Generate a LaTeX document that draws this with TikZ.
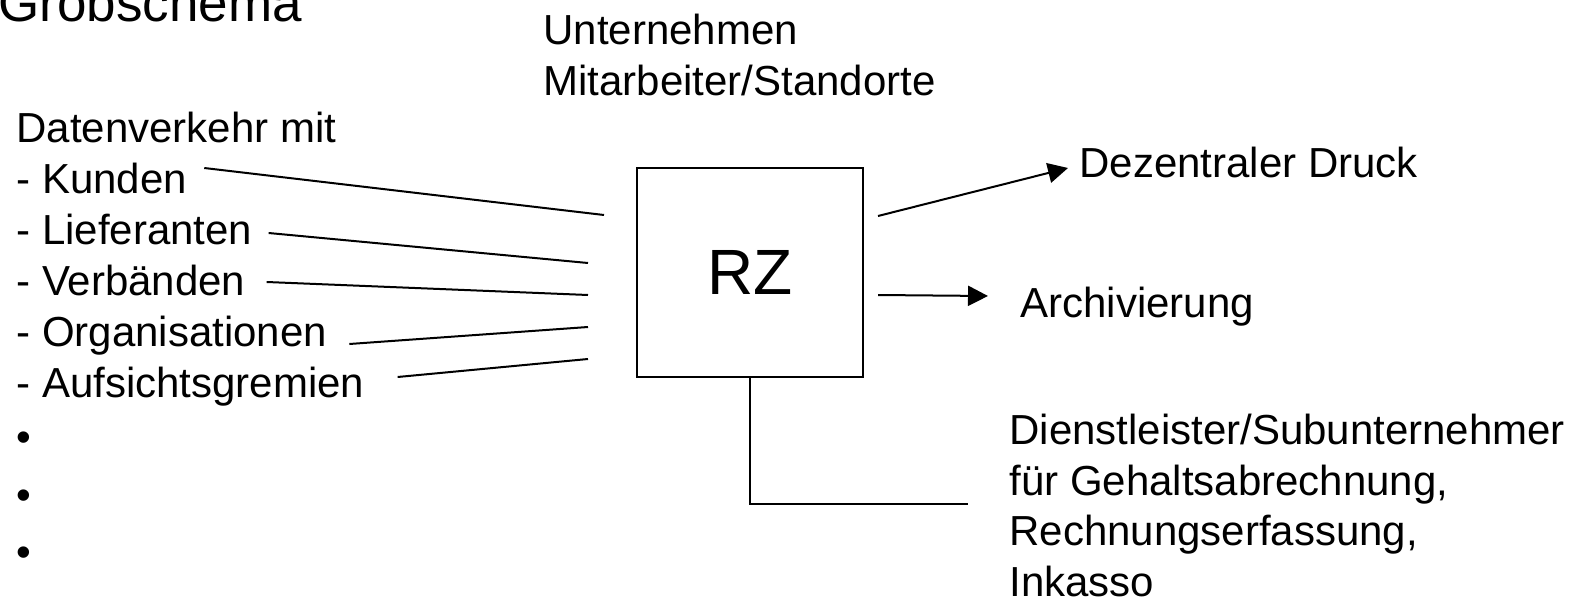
\documentclass[tikz,border=0pt]{standalone}
\usepackage{fontspec}
\setmainfont{Liberation Sans}
\usetikzlibrary{arrows.meta,positioning,calc}

\begin{document}
\begin{tikzpicture}[x=0.5pt,y=-0.5pt]

  \tikzset{main text/.style={anchor=base west, inner sep=0pt, align=left,
  		font=\fontsize{21}{25.5}\selectfont}, }
  \tikzset{main box/.style={rectangle, draw, line width=1pt, minimum width=113pt,
  		minimum height=104.5pt, inner sep=0pt, font=\fontsize{32}{38}\selectfont}, }
  \tikzset{linea/.style={line width=1pt}, }
  \tikzset{pfeil/.style={line width=1pt, -{Triangle[length=10pt,width=10pt]}}, }

  \useasboundingbox (0,0) rectangle (1584,599);

    \node[main text, font=\fontsize{26.5}{32}\selectfont] (titel) at (-2,22) {Grobschema};
    % mehrzeilige Knoten: base = letzte Zeile
    \node[main text] (unternehmen) at (543,96) {Unternehmen\\Mitarbeiter/Standorte};
    \node[main box] (rz) at (750,272.5) {RZ};
    \node[main text] (daten) at (16,142) {Datenverkehr mit};
    \foreach \name/\txt [count=\i] in {kunden/Kunden, lieferanten/Lieferanten,
        verbaende/Verbänden, organisationen/Organisationen, aufsicht/Aufsichtsgremien}
      \node[main text] (\name) at (16,142+51*\i) {- \txt};
    \foreach \y [count=\i] in {451,509,566}
      \node[main text] (punkt\i) at (16,\y) {•};
    \node[main text] (druck) at (1079,177) {Dezentraler Druck};
    \node[main text] (archiv) at (1020,317) {Archivierung};
    \node[main text, font=\fontsize{21}{25.25}\selectfont] (dienst) at (1009,596)
      {Dienstleister/Subunternehmer\\für Gehaltsabrechnung,\\Rechnungserfassung,\\Inkasso};
    \coordinate (dienst-ende) at (968,504);
%
\foreach \x/\dx/\dy/\bx/\by in {kunden/17/-25/-32/48, lieferanten/16/-11/-48/96,
    verbaende/21/-13/-48/128, organisationen/22/-2/-48/160, aufsicht/33/-20/-48/192}
  \draw[linea] ($(\x.base east)+(\dx,\dy)$) -- ($(rz.north west)+(\bx,\by)$);
%
\draw[pfeil] ($(rz.north east)+(14,49)$) -- ($(druck.base west)+(-11,-9)$);
\draw[pfeil] ($(rz.north east)+(14,128)$) -- ($(archiv.base west)+(-32,-21)$);
\draw[linea] (rz.south) |- (dienst-ende);
%
\end{tikzpicture}
\end{document}
